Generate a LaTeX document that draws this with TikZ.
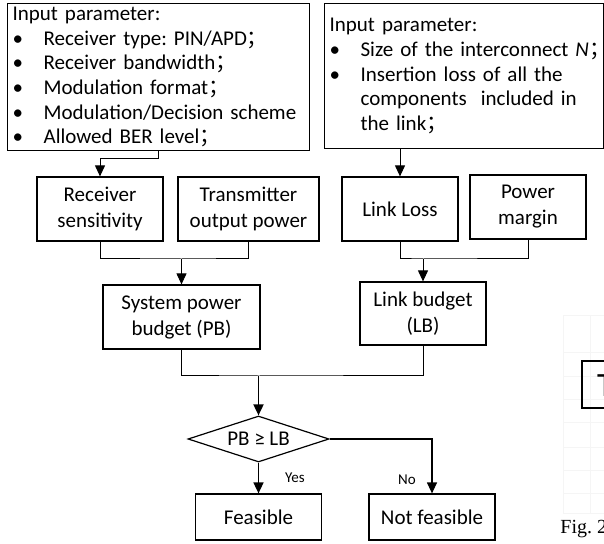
\documentclass[tikz,border=0pt]{standalone}
\usepackage{fontspec}
\setmainfont{Carlito}
\newfontfamily\cjk{Noto Sans CJK SC}
\newfontfamily\figfont{Liberation Serif}
\usetikzlibrary{shapes.geometric,arrows.meta}
\frenchspacing
\newcommand\fsemi{\makebox[0.45em][l]{\cjk ；}}
\newcommand\itm[1]{\mbox{\makebox[15.5pt][l]{\textbullet}#1}}
\newcommand\itc[1]{\mbox{\hspace*{15.5pt}#1}}

\begin{document}
\begin{tikzpicture}[x=0.5pt,y=-0.5pt,
  font=\fontsize{10.5}{13}\selectfont,
  blk/.style={draw, line width=0.6pt, align=center, inner sep=0pt},
  inbox/.style={draw, line width=0.6pt, anchor=north west, align=left,
    inner xsep=2.5pt, inner ysep=0pt, font=\fontsize{10.5}{12.3}\selectfont},
  dec/.style={diamond, draw, line width=0.6pt, aspect=3, inner sep=0pt,
    minimum width=70.5pt, minimum height=23pt},
  arr/.style={-{Triangle[width=5pt,length=5.5pt]}, line width=0.5pt},
  link/.style={line width=0.5pt},
  tag/.style={font=\fontsize{7.5}{9}\selectfont}]
  \useasboundingbox (0,0) rectangle (604,544);
  \clip (0,0) rectangle (604,544);

  % Input boxes
  \node[inbox, text width=146pt, minimum height=73.5pt] (inA) at (7,3) {%
    Input parameter:\\
    \itm{Receiver type: PIN/APD\fsemi}\\
    \itm{Receiver bandwidth\fsemi}\\
    \itm{Modulation format\fsemi}\\
    \itm{Modulation/Decision scheme}\\
    \itm{Allowed BER level\fsemi}};
  \node[inbox, text width=134.5pt, minimum height=72.5pt] (inB) at (324,3) {%
    Input parameter:\\
    \itm{Size of the interconnect \textit{N}\fsemi}\\
    \itm{Insertion loss of all the}\\
    \itc{components~ included in}\\
    \itc{the link\fsemi}};

  % Second row
  \node[blk, minimum width=63pt, minimum height=32pt] (rs) at (100,209) {Receiver\\sensitivity};
  \node[blk, minimum width=70.5pt, minimum height=32pt] (tp) at (248.5,209) {Transmitter\\output power};
  \node[blk, minimum width=58pt, minimum height=32pt] (ll) at (400,209) {Link Loss};
  \node[blk, minimum width=58pt, minimum height=32pt] (pm) at (528,207) {Power\\margin};

  % Budgets
  \node[blk, minimum width=78.5pt, minimum height=32pt] (spb) at (181.5,317) {System power\\budget (PB)};
  \node[blk, minimum width=63pt, minimum height=31.5pt] (lb) at (423,313.5) {Link budget\\(LB)};

  % Decision and results
  \node[dec] (dec) at (258.5,439) {PB ≥ LB};
  \node[blk, minimum width=63pt, minimum height=23pt] (fe) at (258.5,517) {Feasible};
  \node[blk, minimum width=63pt, minimum height=23pt] (nf) at (432,517) {Not feasible};
  \node[tag] (yes) at (295,478) {Yes};
  \node[tag] (no) at (407,480) {No};

  \coordinate (j1) at (181.5,259);
  \coordinate (j2) at (423,259);
  \coordinate (j3) at (258.5,376);

  % Connectors
  \draw[arr] (inA.south) -- ++(0,7) -| (rs.north);
  \draw[arr] (inB.south -| ll.north) -- (ll.north);
  \draw[link] (rs.south) |- (j1) -| (tp.south);
  \draw[arr] (j1) -- (spb.north);
  \draw[link] (ll.south) |- (j2) -| (pm.south);
  \draw[arr] (j2) -- (lb.north);
  \draw[link] (spb.south) |- (j3) -| (lb.south);
  \draw[arr, line width=0.9pt] (j3) -- (dec.north);
  \draw[arr, line width=0.8pt] (dec.south) -- (fe.north);
  \draw[arr, line width=0.6pt] (dec.east) -| (nf.north);

  % Cut-off neighbour figure
  \foreach \gy in {315,352,376,399,422,447,470,493,513}
    \draw[gray!8, line width=0.4pt] (563,\gy) -- (604,\gy);
  \foreach \gx in {563,590}
    \draw[gray!8, line width=0.4pt] (\gx,315) -- (\gx,513);
  \node[draw, line width=1pt, anchor=north west, minimum width=40pt, minimum height=23.5pt] (tbox) at (581,360) {};
  \node[anchor=base west, font=\fontsize{17}{20}\selectfont] (tl) at (590,397) {T};
  \node[anchor=base west, inner sep=0pt, font=\figfont\fontsize{10}{12}\selectfont] (fig) at (560,533) {Fig. 2};
\end{tikzpicture}
\end{document}
